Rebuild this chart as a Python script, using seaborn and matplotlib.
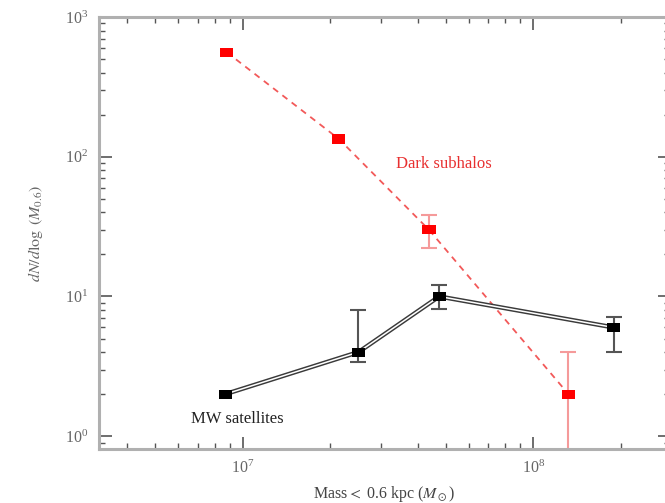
import numpy as np
import pandas as pd
import matplotlib
matplotlib.use("Agg")
import matplotlib.pyplot as plt
from matplotlib.path import Path
import seaborn as sns

# Dark subhalo counts (simulation)
sub_mass = [8.8e6, 2.14e7, 4.37e7, 1.32e8]
sub_n = [560, 134, 30, 2]
sub_err_lo = [0, 0, 7.6, 1.99]
sub_err_hi = [0, 0, 8, 2]

# Milky Way satellite counts (observed)
mw_mass = [8.7e6, 2.5e7, 4.74e7, 1.89e8]
mw_n = [2, 4, 10, 6]
mw_err_lo = [0, 0.6, 1.8, 2]
mw_err_hi = [0, 4, 2, 1.1]

sns.set_style("ticks")
plt.rcParams["font.family"] = ["Liberation Serif", "DejaVu Serif"]
plt.rcParams["mathtext.fontset"] = "stix"

fig = plt.figure(figsize=(6.65, 5.03), dpi=100)
ax = fig.add_axes([99 / 665, 54 / 503, 571 / 665, 432 / 503])
ax.set_xscale("log")
ax.set_yscale("log")

sub = pd.DataFrame({"mass": sub_mass, "n": sub_n})
mw = pd.DataFrame({"mass": mw_mass, "n": mw_n})

rect = Path([(-1.45, -1), (1.45, -1), (1.45, 1), (-1.45, 1), (-1.45, -1)],
            [Path.MOVETO, Path.LINETO, Path.LINETO, Path.LINETO, Path.CLOSEPOLY])

# Dark subhalos: dashed red line
sns.lineplot(data=sub, x="mass", y="n", ax=ax, color="#f03c3c", lw=1.3,
             linestyle=(0, (3.5, 3)), sort=False, alpha=0.85, zorder=2)
# MW satellites: hollow double line
sns.lineplot(data=mw, x="mass", y="n", ax=ax, color="#3a3a3a", lw=3.2,
             sort=False, zorder=2)
sns.lineplot(data=mw, x="mass", y="n", ax=ax, color="white", lw=1.1,
             sort=False, zorder=2.1)

def draw_err(x, y, lo, hi, color):
    x, y, lo, hi = map(np.asarray, (x, y, lo, hi))
    keep = (lo > 0) | (hi > 0)
    ax.errorbar(x[keep], y[keep], yerr=[lo[keep], hi[keep]], fmt="none",
                ecolor=color, elinewidth=1.5, capsize=5.5, capthick=1.5,
                zorder=2.5)

draw_err(sub_mass, sub_n, sub_err_lo, sub_err_hi, "#f59a9a")
draw_err(mw_mass, mw_n, mw_err_lo, mw_err_hi, "#555555")

sns.scatterplot(data=sub, x="mass", y="n", ax=ax, marker=rect, s=90,
                color="#ff0000", edgecolor="none", linewidth=0, zorder=3)
sns.scatterplot(data=mw, x="mass", y="n", ax=ax, marker=rect, s=90,
                color="#000000", edgecolor="none", linewidth=0, zorder=3)

ax.set_xlim(3.2e6, 2.95e8)
ax.set_ylim(0.81, 1000)

ax.text(4.93e7, 88, "Dark subhalos", color="#e83030", fontsize=12,
        ha="center", va="center")
ax.text(9.6e6, 1.33, "MW satellites", color="#222222", fontsize=12,
        ha="center", va="center")

ax.set_xlabel(r"Mass$<$ 0.6 kpc ($M_\odot$)", fontsize=11.5, color="#444444",
              labelpad=5)
ax.set_ylabel(r"$dN/d\log\ (M_{0.6})$", fontsize=11.5, color="#666666",
              labelpad=14)

for s in ax.spines.values():
    s.set_color("#b0b0b0")
    s.set_linewidth(2.2)
ax.tick_params(which="both", direction="in", top=True, right=True,
               colors="#555555", labelsize=11.5, pad=8)
ax.tick_params(which="major", length=9, width=1.2)
ax.tick_params(which="minor", length=4.5, width=1.0)
for lab in ax.get_xticklabels() + ax.get_yticklabels():
    lab.set_color("#666666")

fig.savefig("out.png", dpi=100)
